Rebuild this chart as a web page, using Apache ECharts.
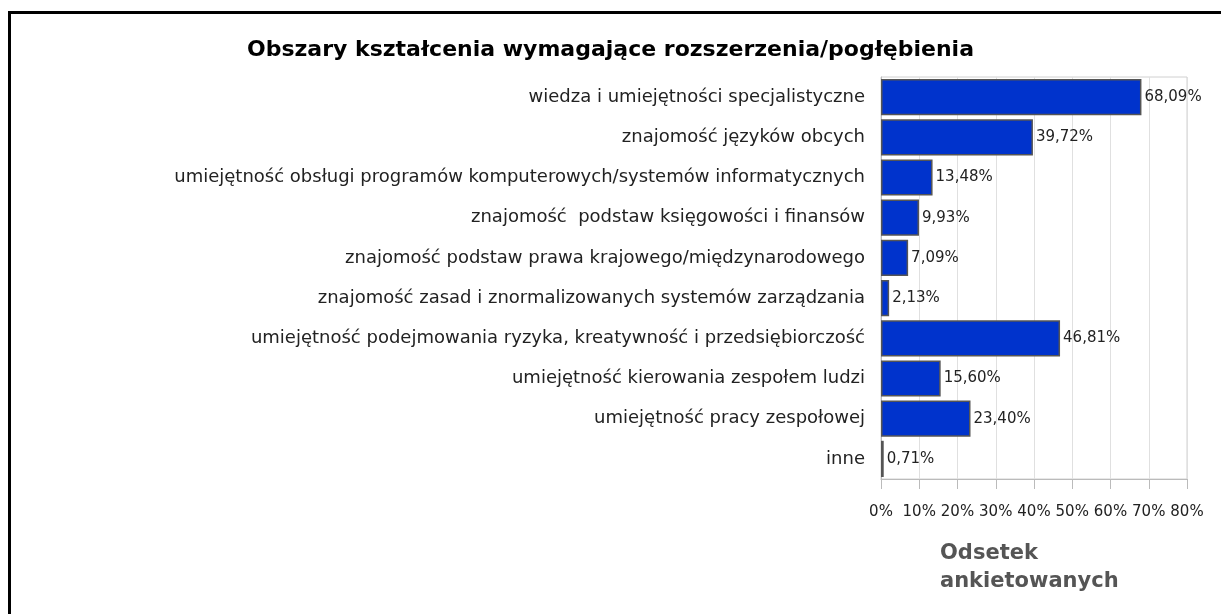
<!DOCTYPE html>
<html style="height: 100%">
    <head>
        <meta charset="utf-8">
    </head>
    <body style="height: 100%; margin: 0; background: #fff">
        <div id="frame" style="position: absolute; left: 8px; top: 11px; right: -10px; bottom: -10px; border-top: 3px solid #000; border-left: 3px solid #000;"></div>
        <div id="container" style="position: absolute; left: 0; top: 0; width: 1221px; height: 614px"></div>

        <script type="text/javascript" src="https://cdn.jsdelivr.net/npm/echarts@6/dist/echarts.min.js"></script>
        <script type="text/javascript">
var dom = document.getElementById("container");
var myChart = echarts.init(dom);

var categories = [
    'wiedza i umiejętności specjalistyczne',
    'znajomość języków obcych',
    'umiejętność obsługi programów komputerowych/systemów informatycznych',
    'znajomość  podstaw księgowości i finansów',
    'znajomość podstaw prawa krajowego/międzynarodowego',
    'znajomość zasad i znormalizowanych systemów zarządzania',
    'umiejętność podejmowania ryzyka, kreatywność i przedsiębiorczość',
    'umiejętność kierowania zespołem ludzi',
    'umiejętność pracy zespołowej',
    'inne'
];
var values = [68.09, 39.72, 13.48, 9.93, 7.09, 2.13, 46.81, 15.60, 23.40, 0.71];

var option = {
    animation: false,
    title: [
        {
            text: 'Obszary kształcenia wymagające rozszerzenia/pogłębienia',
            left: 'center',
            top: 34,
            textStyle: {fontFamily: 'DejaVu Sans', fontSize: 22, fontWeight: 'bold', color: '#000'}
        },
        {
            text: 'Odsetek\nankietowanych',
            left: 935,
            top: 535,
            textStyle: {fontFamily: 'DejaVu Sans', fontSize: 21, fontWeight: 'bold', color: '#555', lineHeight: 28}
        }
    ],
    grid: {
        left: 881,
        right: 34,
        top: 77,
        bottom: 135,
        show: true,
        borderColor: '#d0d0d0',
        borderWidth: 1,
        containLabel: false
    },
    xAxis: {
        type: 'value',
        min: 0,
        max: 80,
        interval: 10,
        axisLine: {show: true, lineStyle: {color: '#bbb'}},
        axisTick: {show: true, length: 10, lineStyle: {color: '#bbb'}},
        axisLabel: {formatter: '{value}%', color: '#222', fontFamily: 'DejaVu Sans', fontSize: 15, margin: 26},
        splitLine: {show: true, lineStyle: {color: '#e0e0e0'}}
    },
    yAxis: {
        type: 'category',
        inverse: true,
        data: categories,
        axisLine: {show: true, lineStyle: {color: '#bbb'}},
        axisTick: {show: false},
        axisLabel: {color: '#222', fontFamily: 'DejaVu Sans', fontSize: 18, margin: 16}
    },
    series: [
        {
            type: 'bar',
            data: values,
            barCategoryGap: '10%',
            itemStyle: {color: '#0033cc', borderColor: '#555', borderWidth: 1.5},
            label: {
                show: true,
                position: 'right',
                distance: 3,
                color: '#222',
                fontFamily: 'DejaVu Sans',
                fontSize: 15,
                formatter: function (p) {
                    return p.value.toFixed(2).replace('.', ',') + '%';
                }
            }
        }
    ]
};

myChart.setOption(option);
        </script>
    </body>
</html>
